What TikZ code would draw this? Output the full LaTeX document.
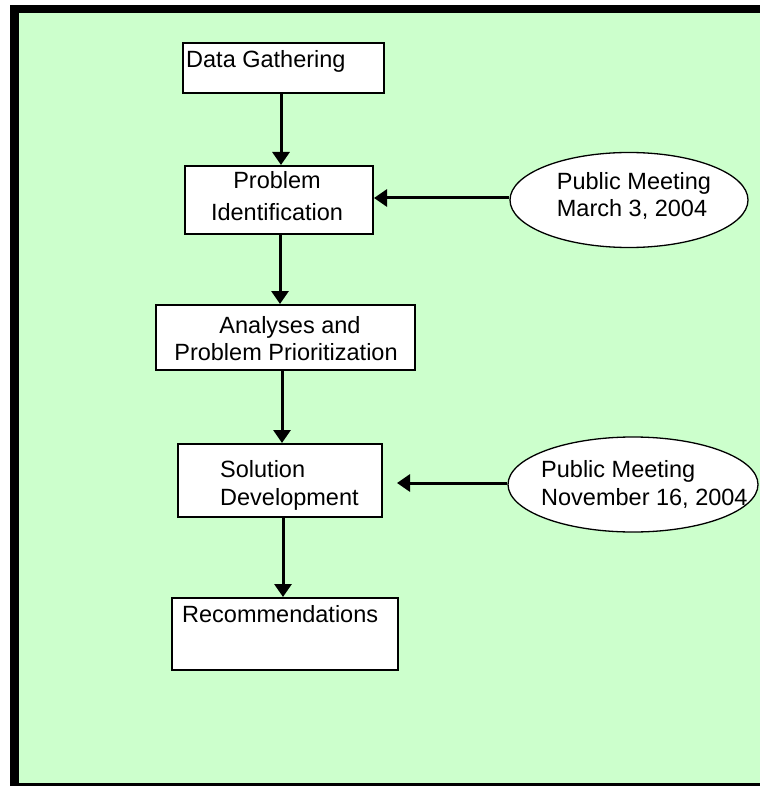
\documentclass[tikz,border=0pt]{standalone}
\usepackage{fontspec}
\setmainfont{Liberation Sans}
\usetikzlibrary{arrows.meta,shapes.geometric}
\definecolor{bggreen}{HTML}{CCFFCC}
\tikzset{
  box/.style={draw=black, line width=2pt, fill=white, rectangle, inner sep=0pt, anchor=north west},
  oval/.style={draw=black, line width=1.3pt, fill=white, ellipse, inner sep=0pt},
  txt/.style={inner sep=0pt, font=\fontsize{23.5pt}{28pt}\selectfont},
  arr/.style={line width=3pt, -{Triangle[length=13pt,width=17pt]}}
}
\begin{document}
\begin{tikzpicture}[x=1pt,y=-1pt]
\useasboundingbox (0,0) rectangle (760,786);
\fill[white] (0,0) rectangle (760,786);
\fill[black] (10,5) rectangle (760,786);
\fill[bggreen] (19,13) rectangle (760,783);

% boxes
\node[box, minimum width=201pt, minimum height=50pt] (dg) at (182,42) {};
\node[box, minimum width=188pt, minimum height=68pt] (pi) at (184,165) {};
\node[box, minimum width=259pt, minimum height=65pt] (ap) at (155,304) {};
\node[box, minimum width=204pt, minimum height=73pt] (sd) at (177,443) {};
\node[box, minimum width=226pt, minimum height=72pt] (rec) at (171,597) {};

% ellipses
\node[oval, minimum width=238pt, minimum height=95pt] (e1) at (629,200) {};
\node[oval, minimum width=250pt, minimum height=95pt] (e2) at (633,484.5) {};

% texts
\node[txt, anchor=base west] (dgt) at (186,68) {Data Gathering};
\node[txt, anchor=base] (pit1) at (277,189) {Problem};
\node[txt, anchor=base] (pit2) at (277,221) {Identification};
\node[txt, anchor=base] (apt1) at (290,333) {Analyses and};
\node[txt, anchor=base] (apt2) at (286,360) {Problem Prioritization};
\node[txt, anchor=base west] (sdt1) at (220,477) {Solution};
\node[txt, anchor=base west] (sdt2) at (220,505) {Development};
\node[txt, anchor=base west] (rect) at (182,622) {Recommendations};
\node[txt, anchor=base] (e1t1) at (634,190) {Public Meeting};
\node[txt, anchor=base] (e1t2) at (632,217) {March 3, 2004};
\node[txt, anchor=base west] (e2t1) at (541,477) {Public Meeting};
\node[txt, anchor=base west] (e2t2) at (541,505) {November 16, 2004};

% connectors
\draw[arr] (dg.south -| 281,0) -- (pi.north -| 281,0);
\draw[arr] (pi.south -| 280,0) -- (ap.north -| 280,0);
\draw[arr] (ap.south -| 282,0) -- (sd.north -| 282,0);
\draw[arr] (sd.south -| 283,0) -- (rec.north -| 283,0);
\draw[arr] (e1.west |- 0,198) -- (pi.east |- 0,198);
\coordinate (h2end) at (397,483);
\draw[arr] (e2.west |- 0,483) -- (h2end);
\end{tikzpicture}
\end{document}
